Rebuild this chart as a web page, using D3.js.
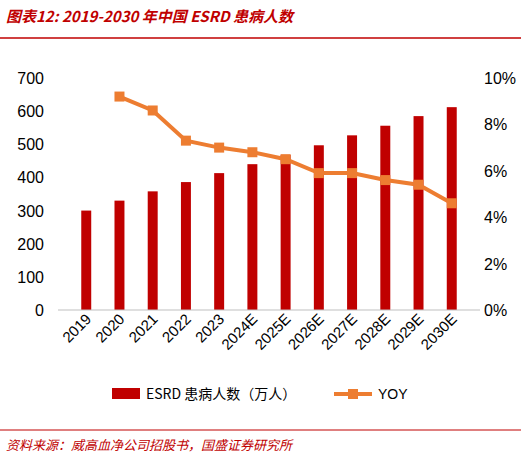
<!doctype html>
<html lang="zh">
<head>
<meta charset="utf-8">
<script src="https://cdn.jsdelivr.net/npm/d3@7"></script>
<style>
body { margin: 0; background: #fff; font-family: "Liberation Sans", "Noto Sans CJK SC", sans-serif; }
</style>
</head>
<body>
<svg id="chart" width="521" height="460"></svg>
<script>
var years = ["2019","2020","2021","2022","2023","2024E","2025E","2026E","2027E","2028E","2029E","2030E"];
var patients = [300, 330, 358, 386, 413, 440, 468, 497, 527, 556, 585, 612];
var yoy = [null, 9.2, 8.6, 7.3, 7.0, 6.8, 6.5, 5.9, 5.9, 5.6, 5.4, 4.6];
var leftTicks = [0, 100, 200, 300, 400, 500, 600, 700];
var rightTicks = [0, 2, 4, 6, 8, 10];

var svg = d3.select("#chart");
var red = "#c00000", orange = "#ed7d31";
var cjk = "'Noto Sans CJK SC', sans-serif";

svg.append("text").attr("x", 6).attr("y", 22).attr("fill", red)
  .attr("font-size", 15).attr("font-style", "italic").attr("font-weight", "bold").attr("font-family", cjk)
  .text("图表12:  2019-2030 年中国 ESRD 患病人数");
svg.append("line").attr("x1", 0).attr("x2", 521).attr("y1", 38).attr("y2", 38)
  .attr("stroke", red).attr("stroke-width", 1.5);

var x = d3.scaleBand().domain(years).range([58, 480]).padding(0.7);
var y = d3.scaleLinear().domain([0, 700]).range([310, 78]);
var y2 = d3.scaleLinear().domain([0, 10]).range([310, 78]);

leftTicks.forEach(function (t) {
  svg.append("text").attr("x", 44).attr("y", y(t) + 6).attr("text-anchor", "end")
    .attr("font-size", 16).text(t);
});
rightTicks.forEach(function (t) {
  svg.append("text").attr("x", 484).attr("y", y2(t) + 6).attr("font-size", 16).text(t + "%");
});

svg.selectAll("rect.bar").data(patients).enter().append("rect")
  .attr("x", function (d, i) { return x(years[i]); })
  .attr("width", x.bandwidth())
  .attr("y", function (d) { return y(d); })
  .attr("height", function (d) { return 310 - y(d); })
  .attr("fill", red);

svg.append("line").attr("x1", 58).attr("x2", 480).attr("y1", 310).attr("y2", 310)
  .attr("stroke", "#bfbfbf");

years.forEach(function (yr) {
  var cx = x(yr) + x.bandwidth() / 2;
  svg.append("text").attr("transform", "translate(" + (cx + 6) + ",320) rotate(-45)")
    .attr("text-anchor", "end").attr("font-size", 15).text(yr);
});

var pts = yoy.map(function (v, i) { return { v: v, i: i }; }).filter(function (d) { return d.v != null; });
var line = d3.line().x(function (d) { return x(years[d.i]) + x.bandwidth() / 2; })
  .y(function (d) { return y2(d.v); });
svg.append("path").datum(pts).attr("d", line).attr("fill", "none")
  .attr("stroke", orange).attr("stroke-width", 4);
svg.selectAll("rect.pt").data(pts).enter().append("rect")
  .attr("x", function (d) { return x(years[d.i]) + x.bandwidth() / 2 - 5; })
  .attr("y", function (d) { return y2(d.v) - 5; })
  .attr("width", 10).attr("height", 10).attr("fill", orange);

// legend
svg.append("rect").attr("x", 112).attr("y", 388).attr("width", 28).attr("height", 11).attr("fill", red);
svg.append("text").attr("x", 146).attr("y", 399).attr("font-size", 14).attr("font-family", cjk)
  .text("ESRD 患病人数（万人）");
svg.append("line").attr("x1", 334).attr("x2", 372).attr("y1", 394).attr("y2", 394)
  .attr("stroke", orange).attr("stroke-width", 4);
svg.append("rect").attr("x", 348).attr("y", 389).attr("width", 10).attr("height", 10).attr("fill", orange);
svg.append("text").attr("x", 378).attr("y", 399).attr("font-size", 14).text("YOY");

svg.append("line").attr("x1", 0).attr("x2", 521).attr("y1", 430).attr("y2", 430)
  .attr("stroke", red).attr("stroke-width", 1);
svg.append("text").attr("x", 6).attr("y", 450).attr("fill", red)
  .attr("font-size", 13).attr("font-style", "italic").attr("font-family", cjk)
  .text("资料来源：威高血净公司招股书，国盛证券研究所");
</script>
</body>
</html>
